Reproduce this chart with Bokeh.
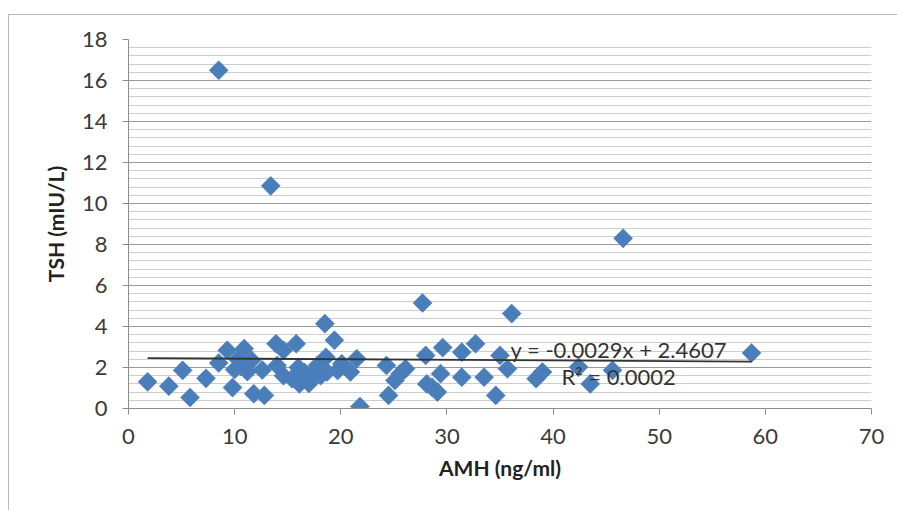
import numpy as np
from bokeh.plotting import figure
from bokeh.models import SingleIntervalTicker, Label, ColumnDataSource, InlineStyleSheet
from bokeh.embed import file_html
from bokeh.resources import INLINE

# ---- data ----
amh = [1.8, 3.8, 5.1, 5.8, 7.3, 8.5, 8.5, 9.3, 9.8, 10.0, 10.3, 10.9, 10.6, 11.2,
       11.6, 11.8, 12.6, 12.8, 13.4, 13.9, 14.0, 14.6, 14.6, 15.4, 15.8, 16.0,
       16.1, 16.6, 17.0, 17.3, 17.8, 18.1, 18.5, 18.6, 18.7, 19.4, 19.7, 20.1,
       20.9, 21.5, 21.8, 24.3, 24.5, 25.1, 25.6, 26.1, 27.7, 28.0, 28.1, 28.6,
       29.1, 29.4, 29.6, 31.4, 31.4, 32.7, 33.5, 34.6, 35.0, 35.7, 36.1, 38.4,
       39.0, 42.4, 43.5, 45.6, 46.6, 58.7]
tsh = [1.30, 1.09, 1.86, 0.54, 1.47, 16.5, 2.22, 2.84, 1.02, 1.90, 2.40, 2.92,
       2.05, 1.80, 2.35, 0.72, 1.88, 0.64, 10.86, 3.16, 2.10, 2.84, 1.60, 1.45,
       3.16, 2.00, 1.20, 1.75, 1.22, 1.55, 2.10, 1.60, 4.14, 2.50, 1.78, 3.33,
       1.85, 2.18, 1.78, 2.43, 0.10, 2.10, 0.64, 1.37, 1.70, 1.94, 5.15, 2.59,
       1.20, 1.04, 0.80, 1.70, 2.97, 2.75, 1.53, 3.16, 1.53, 0.64, 2.59, 1.94,
       4.63, 1.45, 1.78, 2.02, 1.20, 1.86, 8.30, 2.71]

slope = -0.0029
intercept = 2.4607
eq_text = "y = -0.0029x + 2.4607"
r2_text = "R\u00b2 = 0.0002"
x_title = "AMH (ng/ml)"
y_title = "TSH (mIU/L)"

FONT = "Lato"

p = figure(frame_width=743, frame_height=369, width=889, height=502,
           min_border_left=128, min_border_right=18, min_border_top=39,
           min_border_bottom=94,
           x_range=(0, 70), y_range=(0, 18),
           output_backend="svg", toolbar_location=None)
p.outline_line_color = None
p.background_fill_color = "white"
p.border_fill_color = "white"

# thin grey chart-area border (top and left edges), drawn outside the canvas layout
p.stylesheets = [InlineStyleSheet(css=(
    ":host::after { content: ''; position: absolute; left: 8px; top: 14px; "
    "right: -20px; bottom: -20px; border-top: 1.5px solid #b8b8b8; "
    "border-left: 1.5px solid #b8b8b8; pointer-events: none; }"))]

# axes
p.xaxis.ticker = SingleIntervalTicker(interval=10, num_minor_ticks=0)
p.yaxis.ticker = SingleIntervalTicker(interval=2, num_minor_ticks=5)
for ax in (p.xaxis, p.yaxis):
    ax.axis_line_color = "#8c8c8c"
    ax.major_tick_line_color = "#8c8c8c"
    ax.minor_tick_line_color = None
    ax.major_tick_out = 6
    ax.major_tick_in = 0
    ax.major_label_text_font = FONT
    ax.major_label_text_font_size = "22px"
    ax.major_label_text_color = "#3a3a3a"
    ax.axis_label_text_font = FONT
    ax.axis_label_text_font_size = "21px"
    ax.axis_label_text_font_style = "bold"
    ax.axis_label_text_color = "#222222"
p.xaxis.axis_label = x_title
p.yaxis.axis_label = y_title
p.yaxis.major_label_standoff = 15
p.xaxis.major_label_standoff = 14
p.yaxis.axis_label_standoff = 11
p.xaxis.axis_label_standoff = 8

# grid
p.xgrid.grid_line_color = None
p.ygrid.grid_line_color = "#9a9a9a"
p.ygrid.grid_line_width = 1
p.ygrid.minor_grid_line_color = "#cdcdcd"
p.ygrid.minor_grid_line_width = 1

src = ColumnDataSource(dict(x=amh, y=tsh))
p.scatter("x", "y", source=src, marker="square", size=13.5, angle=np.pi / 4,
          fill_color="#4a7ebb", line_color="#4a7ebb", line_width=0.5)

# linear trend line
xs = [min(amh), max(amh)]
ys = [slope * v + intercept for v in xs]
p.line(xs, ys, line_color="#333333", line_width=1.8)

p.add_layout(Label(x=36.0, y=2.89, text=eq_text, text_font=FONT,
                   text_font_size="22px", text_color="#333333",
                   text_baseline="middle"))
p.add_layout(Label(x=40.8, y=1.57, text=r2_text, text_font=FONT,
                   text_font_size="22px", text_color="#333333",
                   text_baseline="middle"))

open("out.html", "w").write(file_html(p, INLINE))
